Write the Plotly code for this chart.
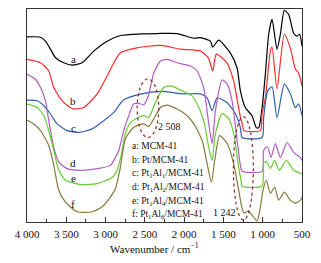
import plotly.graph_objects as go

# Wavenumbers (cm-1) and relative transmittance (arbitrary units)
wn_a = [4000, 3828, 3765, 3701, 3637, 3532, 3425, 3298, 3150, 2980, 2811, 2556, 2344, 2089, 1882, 1793,
        1666, 1637, 1560, 1411, 1326, 1284, 1221, 1136, 1081, 1051, 1008, 966, 924, 881, 818, 775, 725,
        670, 606, 563, 530, 500]
y_a = [186.3, 186, 182, 174, 165.3, 160.3, 158, 160.3, 172, 182, 187.7, 189.3, 189.7, 189.7, 185, 185.5,
       182, 176, 183, 170, 155, 132, 115, 107, 95, 95, 115, 149, 189, 204, 174, 189, 213,
       209, 190, 187, 189, 177]

wn_b = [4000, 3828, 3723, 3659, 3552, 3425, 3277, 3107, 2980, 2896, 2811, 2598, 2302, 2047, 1793, 1690,
        1637, 1590, 1453, 1370, 1293, 1250, 1240, 1030, 1008, 966, 903, 881, 818, 725, 648, 585, 543, 500]
y_b = [163.7, 160.3, 152, 135.3, 122, 114, 115.3, 129, 147, 160, 170.3, 175.3, 177.7, 174, 172, 165,
       152, 169, 160, 142, 109, 95, 92, 92, 109, 125, 172, 176, 134, 189, 175, 154, 150, 137]

wn_c = [4000, 3870, 3786, 3701, 3616, 3489, 3341, 3171, 3023, 2896, 2769, 2556, 2302, 2005, 1793, 1708,
        1644, 1581, 1453, 1348, 1284, 1263, 1008, 988, 937, 881, 818, 725, 648, 585, 543, 500]
y_c = [122.7, 122, 117, 108.7, 98.7, 92, 90.3, 93.7, 102, 110.3, 123, 128.7, 131.5, 129, 129, 125,
       112, 125, 120, 109, 95, 85, 85, 105, 132, 136, 105, 139, 129, 115, 119, 107]

wn_d = [4000, 3892, 3828, 3765, 3723, 3659, 3596, 3489, 3319, 3107, 2938, 2874, 2832, 2769, 2705, 2641,
        2556, 2514, 2455, 2387, 2302, 2217, 2089, 1920, 1835, 1751, 1687, 1644, 1602, 1517, 1453, 1390,
        1326, 1284, 1263, 1008, 988, 941, 894, 839, 775, 690, 606, 521, 500]
y_d = [148.7, 143.7, 135.3, 122, 102, 75.3, 60.3, 53.7, 52, 53.7, 57, 65, 72, 92, 107, 119,
       119, 118, 127, 150, 162, 163.7, 160.3, 157, 152, 135, 99, 79, 112, 143, 139, 122,
       82, 57, 51, 51, 72, 76, 65, 79, 65, 80, 70, 65, 62]

wn_e = [4000, 3870, 3786, 3723, 3659, 3596, 3510, 3319, 3107, 2938, 2874, 2832, 2789, 2747, 2683, 2620,
        2514, 2451, 2365, 2260, 2175, 2047, 1899, 1835, 1751, 1687, 1644, 1602, 1517, 1433, 1370, 1306,
        1272, 1263, 1008, 988, 954, 903, 848, 788, 699, 606, 521, 500]
y_e = [118.7, 115.3, 107, 92, 72, 52, 42, 37.7, 38.7, 43.7, 48.7, 57, 72, 90, 100, 103.7,
       107, 105.3, 120.3, 135.3, 137, 133, 127, 119, 102, 75, 62, 89, 109, 104, 89, 55,
       40, 36, 36, 59, 61, 54, 62, 52, 62, 52, 49, 48]

wn_f = [4000, 3914, 3828, 3723, 3659, 3596, 3510, 3361, 3171, 3043, 2938, 2874, 2811, 2747, 2641, 2514,
        2451, 2365, 2302, 2217, 2089, 1962, 1878, 1771, 1708, 1653, 1611, 1548, 1453, 1370, 1306, 1263,
        1234, 1187, 1136, 1072, 1030, 996, 954, 903, 848, 797, 725, 648, 585, 521, 500]
y_f = [102.7, 98.7, 92, 77, 57, 32, 20, 10.3, 10.3, 15.3, 25.3, 33.7, 55.3, 84, 95.3, 98.7,
       96.3, 107, 115.3, 117.7, 113.7, 107, 99, 82, 59, 40, 62, 87, 79, 59, 32, 14,
       9, 11, 7, 1, 15, 32, 42, 29, 35, 22, 30, 22, 19, 22, 25]

series = [
    ("a", wn_a, y_a, "#000000", 164.3),
    ("b", wn_b, y_b, "#ff2a2a", 122),
    ("c", wn_c, y_c, "#2f5fb0", 95),
    ("d", wn_d, y_d, "#b05cc4", 59),
    ("e", wn_e, y_e, "#66cc33", 44),
    ("f", wn_f, y_f, "#857a3a", 18),
]

legend_lines = [
    "a: MCM-41",
    "b: Pt/MCM-41",
    "c: Pt<sub>1</sub>Al<sub>1</sub>/MCM-41",
    "d: Pt<sub>1</sub>Al<sub>2</sub>/MCM-41",
    "e: Pt<sub>1</sub>Al<sub>4</sub>/MCM-41",
    "f: Pt<sub>1</sub>Al<sub>6</sub>/MCM-41",
]

tick_vals = [4000, 3500, 3000, 2500, 2000, 1500, 1000, 500]
tick_text = ["4 000", "3 500", "3 000", "2 500", "2 000", "1 500", "1 000", "500"]
minor_vals = [3750, 3250, 2750, 2250, 1750, 1250, 750]

FONT = "Liberation Serif, Times New Roman, serif"

fig = go.Figure()
for name, wx, wy, col, ly in series:
    fig.add_trace(go.Scatter(x=wx, y=wy, mode="lines", name=name,
                             line=dict(color=col, width=1.2, shape="spline", smoothing=0.6),
                             showlegend=False, hoverinfo="skip"))

annotations = []
for name, wx, wy, col, ly in series:
    annotations.append(dict(x=3410, y=ly, xref="x", yref="y", text=name, showarrow=False,
                            font=dict(family=FONT, size=11, color="#111")))

legend_y = [0.358, 0.292, 0.2285, 0.163, 0.098, 0.0345]
for txt, yy in zip(legend_lines, legend_y):
    annotations.append(dict(x=0.378, y=yy, xref="paper", yref="paper", text=txt, showarrow=False,
                            xanchor="left", yanchor="middle", borderpad=0,
                            font=dict(family=FONT, size=9.5, color="#111")))

annotations.append(dict(x=2187, y=96, xref="x", yref="y", text="2 508", showarrow=False,
                        font=dict(family=FONT, size=10, color="#111")))
annotations.append(dict(x=1492, y=9.5, xref="x", yref="y", text="1 242", showarrow=False,
                        font=dict(family=FONT, size=10, color="#111")))
annotations.append(dict(x=0.463, y=-0.122, xref="paper", yref="paper",
                        text="Wavenumber / cm<sup>−1</sup>", showarrow=False, yanchor="middle",
                        font=dict(family=FONT, size=11, color="#111")))

shapes = [
    dict(type="circle", xref="x", yref="y", x0=2598, x1=2323, y0=85, y1=144,
         line=dict(color="#8b2a2a", width=1.2, dash="dot")),
    dict(type="circle", xref="x", yref="y", x0=1373, x1=1119, y0=2, y1=106,
         line=dict(color="#8b2a2a", width=1.2, dash="dot")),
]

fig.update_layout(
    width=321, height=263,
    margin=dict(l=26.5, r=19.3, t=7.3, b=41.3),
    paper_bgcolor="white", plot_bgcolor="white",
    annotations=annotations, shapes=shapes,
    showlegend=False,
)
fig.update_xaxes(range=[4000, 500], tickvals=tick_vals, ticktext=tick_text,
                 ticks="inside", ticklen=5, tickcolor="#333", tickwidth=1,
                 minor=dict(tickvals=minor_vals, ticks="inside", ticklen=3, tickcolor="#333"),
                 showline=True, linecolor="#333", linewidth=1.2, mirror=True,
                 showgrid=False, zeroline=False, ticklabelstandoff=2,
                 tickfont=dict(family=FONT, size=11, color="#111"))
fig.update_yaxes(range=[0, 214.4], showticklabels=False, ticks="",
                 showline=True, linecolor="#333", linewidth=1.2, mirror=True,
                 showgrid=False, zeroline=False)

fig.write_html("out.html", config={"displayModeBar": False},
               post_script="document.body.style.margin='0';document.body.style.padding='0';")
